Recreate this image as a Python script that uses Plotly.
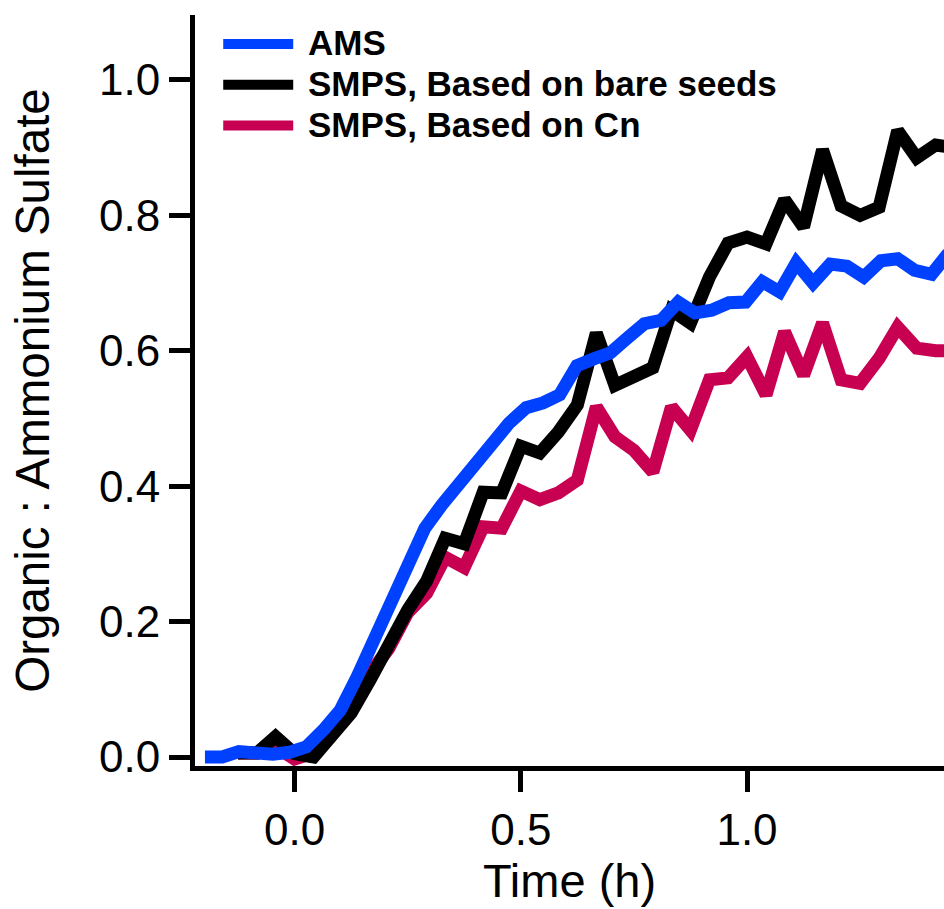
import plotly.graph_objects as go

# SMPS time grid (h)
smps_time = [-0.125, -0.083, -0.042, 0.0, 0.042, 0.083, 0.125, 0.167, 0.208, 0.25,
             0.292, 0.333, 0.375, 0.417, 0.458, 0.5, 0.542, 0.583, 0.625, 0.667,
             0.708, 0.75, 0.792, 0.833, 0.875, 0.917, 0.958, 1.0, 1.042, 1.083,
             1.125, 1.167, 1.208, 1.25, 1.292, 1.333, 1.375, 1.417, 1.458]
smps_bare = [0.006, 0.006, 0.03, 0.005, 0.0, 0.03, 0.065, 0.114, 0.168, 0.217,
             0.26, 0.323, 0.315, 0.391, 0.39, 0.459, 0.449, 0.48, 0.52, 0.626,
             0.549, 0.564, 0.575, 0.66, 0.641, 0.709, 0.759, 0.768, 0.758, 0.823,
             0.783, 0.897, 0.814, 0.80, 0.812, 0.925, 0.885, 0.904, 0.90]
smps_cn = [0.006, 0.006, 0.015, -0.003, 0.006, 0.035, 0.07, 0.124, 0.16, 0.213,
           0.242, 0.295, 0.28, 0.34, 0.338, 0.393, 0.38, 0.39, 0.409, 0.517,
           0.473, 0.453, 0.421, 0.517, 0.483, 0.557, 0.56, 0.591, 0.535, 0.628,
           0.564, 0.641, 0.557, 0.552, 0.589, 0.635, 0.604, 0.60, 0.60]

# AMS time grid (h)
ams_time = [-0.198, -0.160, -0.123, -0.086, -0.048, -0.011, 0.026, 0.064, 0.101, 0.138,
            0.176, 0.213, 0.250, 0.288, 0.325, 0.362, 0.400, 0.437, 0.474, 0.512,
            0.549, 0.586, 0.624, 0.661, 0.698, 0.736, 0.773, 0.810, 0.848, 0.885,
            0.922, 0.960, 0.997, 1.034, 1.072, 1.109, 1.146, 1.184, 1.221, 1.258,
            1.296, 1.333, 1.370, 1.408, 1.445]
ams = [0.0, 0.0, 0.008, 0.005, 0.004, 0.007, 0.015, 0.04, 0.069, 0.118,
       0.173, 0.232, 0.284, 0.338, 0.372, 0.402, 0.43, 0.461, 0.493, 0.516,
       0.523, 0.535, 0.578, 0.588, 0.597, 0.619, 0.64, 0.645, 0.672, 0.656,
       0.66, 0.671, 0.672, 0.702, 0.687, 0.73, 0.70, 0.728, 0.725, 0.709,
       0.733, 0.736, 0.719, 0.713, 0.744]

names = ["AMS", "SMPS, Based on bare seeds", "SMPS, Based on Cn"]
colors = ["#0040ff", "#000000", "#c80052"]
x_ticks = [0.0, 0.5, 1.0]
x_ticktext = ["0.0", "0.5", "1.0"]
y_ticks = [0.0, 0.2, 0.4, 0.6, 0.8, 1.0]
y_ticktext = ["0.0", "0.2", "0.4", "0.6", "0.8", "1.0"]

FONT = "Liberation Sans, Arial, Helvetica, sans-serif"
LW = 13


def leg(name):
    return '<span style="font-size:35px">\u00a0<b>' + name + '</b></span>'


fig = go.Figure()
fig.add_trace(go.Scatter(x=smps_time, y=smps_cn, mode="lines", name=leg(names[2]),
                         line=dict(color=colors[2], width=LW)))
fig.add_trace(go.Scatter(x=smps_time, y=smps_bare, mode="lines", name=leg(names[1]),
                         line=dict(color=colors[1], width=LW)))
fig.add_trace(go.Scatter(x=ams_time, y=ams, mode="lines", name=leg(names[0]),
                         line=dict(color=colors[0], width=LW)))

fig.update_layout(
    width=944, height=909,
    margin=dict(l=195, r=0, t=15, b=143),
    paper_bgcolor="white", plot_bgcolor="white",
    font=dict(family=FONT, color="black"),
    showlegend=True,
    legend=dict(x=0.031, y=0.995, xanchor="left", yanchor="top",
                traceorder="reversed", font=dict(size=29, family=FONT, color="black"),
                bgcolor="rgba(0,0,0,0)", itemwidth=70, tracegroupgap=0),
    xaxis=dict(range=[-0.22, 1.4354], showgrid=False, zeroline=False,
               showline=True, linecolor="black", linewidth=5,
               ticks="outside", ticklen=21, tickwidth=5, tickcolor="black",
               tickvals=x_ticks, ticktext=x_ticktext,
               tickfont=dict(size=44, family=FONT),
               title=dict(text="Time (h)", font=dict(size=47, family=FONT), standoff=10)),
    yaxis=dict(range=[-0.0133, 1.096], showgrid=False, zeroline=False,
               showline=True, linecolor="black", linewidth=5,
               ticks="outside", ticklen=21, tickwidth=5, tickcolor="black",
               tickvals=y_ticks, ticktext=y_ticktext,
               tickfont=dict(size=44, family=FONT),
               title=dict(text="Organic : Ammonium Sulfate", font=dict(size=47.5, family=FONT), standoff=36)),
)

fig.write_html("out.html")
